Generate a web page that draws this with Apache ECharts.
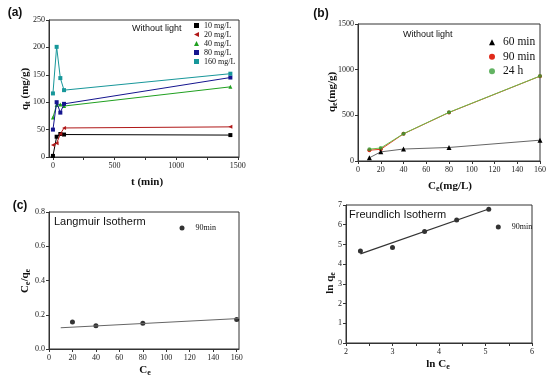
<!DOCTYPE html>
<html><head><meta charset="utf-8">
<script src="https://cdn.jsdelivr.net/npm/echarts@6/dist/echarts.min.js"></script>
<style>html,body{margin:0;padding:0;background:#fff}#c{width:550px;height:379px}</style>
</head><body><div id="c"></div>
<script>
// ---- panel (a): kinetics ----
const timesA = [0, 30, 60, 90, 1440];
const q10 = [2, 37, 42, 41, 40];
const q20 = [22, 25, 42, 53, 55];
const q40 = [72, 95, 96, 93, 128];
const q80 = [50, 100, 81, 97, 145];
const q160 = [116, 201, 144, 122, 152];
const namesA = ['10 mg/L', '20 mg/L', '40 mg/L', '80 mg/L', '160 mg/L'];
const xTicksA = [0, 500, 1000, 1500];
const xMinorA = [0, 250, 500, 750, 1000, 1250, 1500];
const yTicksA = [0, 50, 100, 150, 200, 250];
// ---- panel (b): isotherms ----
const ceB = [10, 20, 40, 80, 160];
const qe60 = [35, 100, 131, 148, 228];
const qe90 = [118, 128, 297, 531, 929];
const qe24 = [130, 142, 299, 533, 930];
const namesB = ['60 min', '90 min', '24 h'];
const xTicksB = [0, 20, 40, 60, 80, 100, 120, 140, 160];
const yTicksB = [0, 500, 1000, 1500];
// ---- panel (c): Langmuir ----
const ceC = [20, 40, 80, 160];
const ceqeC = [0.157, 0.136, 0.151, 0.172];
const fitCx = [10, 162];
const fitCy = [0.124, 0.178];
const xTicksC = [0, 20, 40, 60, 80, 100, 120, 140, 160];
const yTicksC = [0, 0.2, 0.4, 0.6, 0.8];
// ---- panel (d): Freundlich ----
const lnCe = [2.31, 3.0, 3.69, 4.38, 5.07];
const lnQe = [4.67, 4.84, 5.65, 6.24, 6.78];
const fitDx = [2.31, 5.07];
const fitDy = [4.52, 6.80];
const xTicksD = [2, 3, 4, 5, 6];
const xMinorD = [2, 2.5, 3, 3.5, 4, 4.5, 5, 5.5, 6];
const yTicksD = [0, 1, 2, 3, 4, 5, 6, 7];

const serif = 'Liberation Serif';
const sans = 'Liberation Sans';
const axisCol = '#333';
const triLeft = 'path://M0,5L10,0L10,10Z';
const plain = v => String(v);

function xax(gi, min, max, labels, ticks, fmt) {
  return {
    type: 'value', gridIndex: gi, min: min, max: max,
    axisLine: { show: true, onZero: false, lineStyle: { color: axisCol, width: 1 } },
    axisTick: { show: true, length: 3, customValues: ticks || labels, lineStyle: { color: axisCol } },
    axisLabel: { customValues: labels, margin: 5, fontFamily: serif, fontSize: 8, color: '#222', formatter: fmt || plain },
    splitLine: { show: false }
  };
}
function yax(gi, min, max, labels, fmt) {
  return {
    type: 'value', gridIndex: gi, min: min, max: max,
    axisLine: { show: true, onZero: false, lineStyle: { color: axisCol, width: 1 } },
    axisTick: { show: true, length: 3, customValues: labels, lineStyle: { color: axisCol } },
    axisLabel: { customValues: labels, margin: 4, fontFamily: serif, fontSize: 8, color: '#222', formatter: fmt || plain },
    splitLine: { show: false }
  };
}
function pairs(xs, ys) { return xs.map((x, i) => [x, ys[i]]); }

const colorsA = ['#000000', '#b01818', '#20a020', '#15158f', '#17979a'];
const symA = ['rect', triLeft, 'triangle', 'rect', 'rect'];
const dataA = [q10, q20, q40, q80, q160];

const series = [];
dataA.forEach((d, i) => {
  series.push({
    name: namesA[i], type: 'line', xAxisIndex: 0, yAxisIndex: 0,
    data: pairs(timesA, d), symbol: symA[i], symbolSize: 4,
    lineStyle: { color: colorsA[i], width: 1 }, itemStyle: { color: colorsA[i] }, z: 2 + i
  });
});
series.push({ name: namesB[0], type: 'line', xAxisIndex: 1, yAxisIndex: 1, data: pairs(ceB, qe60),
  symbol: 'triangle', symbolSize: 5, lineStyle: { color: '#666', width: 1 }, itemStyle: { color: '#000' }, z: 5 });
series.push({ name: namesB[1], type: 'line', xAxisIndex: 1, yAxisIndex: 1, data: pairs(ceB, qe90),
  symbol: 'circle', symbolSize: 4, lineStyle: { color: '#e03a20', width: 1 }, itemStyle: { color: '#e02a1a' }, z: 3 });
series.push({ name: namesB[2], type: 'line', xAxisIndex: 1, yAxisIndex: 1, data: pairs(ceB, qe24),
  symbol: 'circle', symbolSize: 4, lineStyle: { color: '#6cbf4a', width: 1 }, itemStyle: { color: '#2f9a2f', opacity: 0.75 }, z: 4 });
series.push({ name: 'fitC', type: 'line', xAxisIndex: 2, yAxisIndex: 2, data: pairs(fitCx, fitCy),
  symbol: 'none', lineStyle: { color: '#666', width: 1 }, silent: true });
series.push({ name: '90min', type: 'scatter', xAxisIndex: 2, yAxisIndex: 2, data: pairs(ceC, ceqeC),
  symbol: 'circle', symbolSize: 5, itemStyle: { color: '#000' } });
series.push({ name: 'fitD', type: 'line', xAxisIndex: 3, yAxisIndex: 3, data: pairs(fitDx, fitDy),
  symbol: 'none', lineStyle: { color: '#333', width: 1.2 }, silent: true });
series.push({ name: '90min', type: 'scatter', xAxisIndex: 3, yAxisIndex: 3, data: pairs(lnCe, lnQe),
  symbol: 'circle', symbolSize: 5, itemStyle: { color: '#000' } });

const gridStyle = { show: true, borderColor: axisCol, borderWidth: 1, backgroundColor: 'transparent' };
const rb = { fontFamily: serif, fontWeight: 'bold', fontSize: 11, lineHeight: 12, fill: '#111' };
const rs = { fontFamily: serif, fontWeight: 'bold', fontSize: 8, lineHeight: 8, padding: [6, 0, 0, 0], fill: '#111' };
function rtext(x, y, text, rot) {
  return { type: 'text', x: x, y: y, rotation: rot || 0,
    style: { text: text, rich: { b: rb, s: rs }, align: 'center', verticalAlign: 'middle', fill: '#111' } };
}
function ptext(x, y, text, size, align, bold) {
  return { type: 'text', x: x, y: y,
    style: { text: text, fontFamily: sans, fontSize: size, fontWeight: bold ? 'bold' : 'normal', fill: '#111', align: align || 'left', verticalAlign: 'middle' } };
}

const option = {
  backgroundColor: '#fff',
  animation: false,
  grid: [
    Object.assign({ left: 49, top: 20, width: 190, height: 137 }, gridStyle),
    Object.assign({ left: 358, top: 24, width: 182, height: 137 }, gridStyle),
    Object.assign({ left: 49, top: 212, width: 190, height: 137 }, gridStyle),
    Object.assign({ left: 346, top: 205, width: 186, height: 138 }, gridStyle)
  ],
  xAxis: [
    xax(0, -32, 1510, xTicksA, xMinorA),
    xax(1, 0, 160, xTicksB),
    xax(2, 0, 162, xTicksC),
    xax(3, 2, 6, xTicksD, xMinorD)
  ],
  yAxis: [
    yax(0, 0, 250, yTicksA),
    yax(1, 0, 1500, yTicksB),
    yax(2, 0, 0.8, yTicksC, v => v.toFixed(1)),
    yax(3, 0, 7, yTicksD)
  ],
  legend: [
    { left: 194, top: 21, orient: 'vertical', padding: 0, itemGap: 0, itemWidth: 5, itemHeight: 5, selectedMode: false,
      data: namesA.map((n, i) => ({ name: n, icon: symA[i] })),
      textStyle: { fontFamily: serif, fontSize: 8, lineHeight: 9, color: '#111' } },
    { left: 489, top: 35, orient: 'vertical', padding: 0, itemGap: 0, itemWidth: 6, itemHeight: 6, selectedMode: false,
      data: [{ name: namesB[0], icon: 'triangle' }, { name: namesB[1], icon: 'circle' }, { name: namesB[2], icon: 'circle' }],
      textStyle: { fontFamily: serif, fontSize: 11.5, lineHeight: 14.5, color: '#111', padding: [0, 0, 0, 3] } },
    { left: 179.5, top: 224, orient: 'vertical', padding: 0, itemWidth: 5, itemHeight: 5, selectedMode: false,
      data: [{ name: '90min', icon: 'circle' }],
      textStyle: { fontFamily: serif, fontSize: 8, color: '#111', padding: [0, 0, 0, 6] } },
    { left: 495.8, top: 223, orient: 'vertical', padding: 0, itemWidth: 5, itemHeight: 5, selectedMode: false,
      data: [{ name: '90min', icon: 'circle' }],
      textStyle: { fontFamily: serif, fontSize: 8, color: '#111', padding: [0, 0, 0, 6] } }
  ],
  graphic: [
    ptext(15, 13, '(a)', 12, 'center', true),
    ptext(321, 14, '(b)', 12, 'center', true),
    ptext(20, 206, '(c)', 12, 'center', true),
    ptext(132, 29, 'Without light', 9),
    ptext(403, 35, 'Without light', 9),
    ptext(54, 222, 'Langmuir Isotherm', 11),
    ptext(349, 215, 'Freundlich Isotherm', 11),
    rtext(25, 89, '{b|q}{s|t}{b| (mg/g)}', Math.PI / 2),
    rtext(332, 92, '{b|q}{s|e}{b|(mg/g)}', Math.PI / 2),
    rtext(25, 281, '{b|C}{s|e}{b|/q}{s|e}', Math.PI / 2),
    rtext(330, 283, '{b|ln q}{s|e}', Math.PI / 2),
    rtext(147, 182, '{b|t (min)}'),
    rtext(450, 186, '{b|C}{s|e}{b|(mg/L)}'),
    rtext(145, 370, '{b|C}{s|e}'),
    rtext(438, 364, '{b|ln C}{s|e}')
  ],
  series: series
};
const chart = echarts.init(document.getElementById('c'), null, { renderer: 'canvas' });
chart.setOption(option);
</script></body></html>
